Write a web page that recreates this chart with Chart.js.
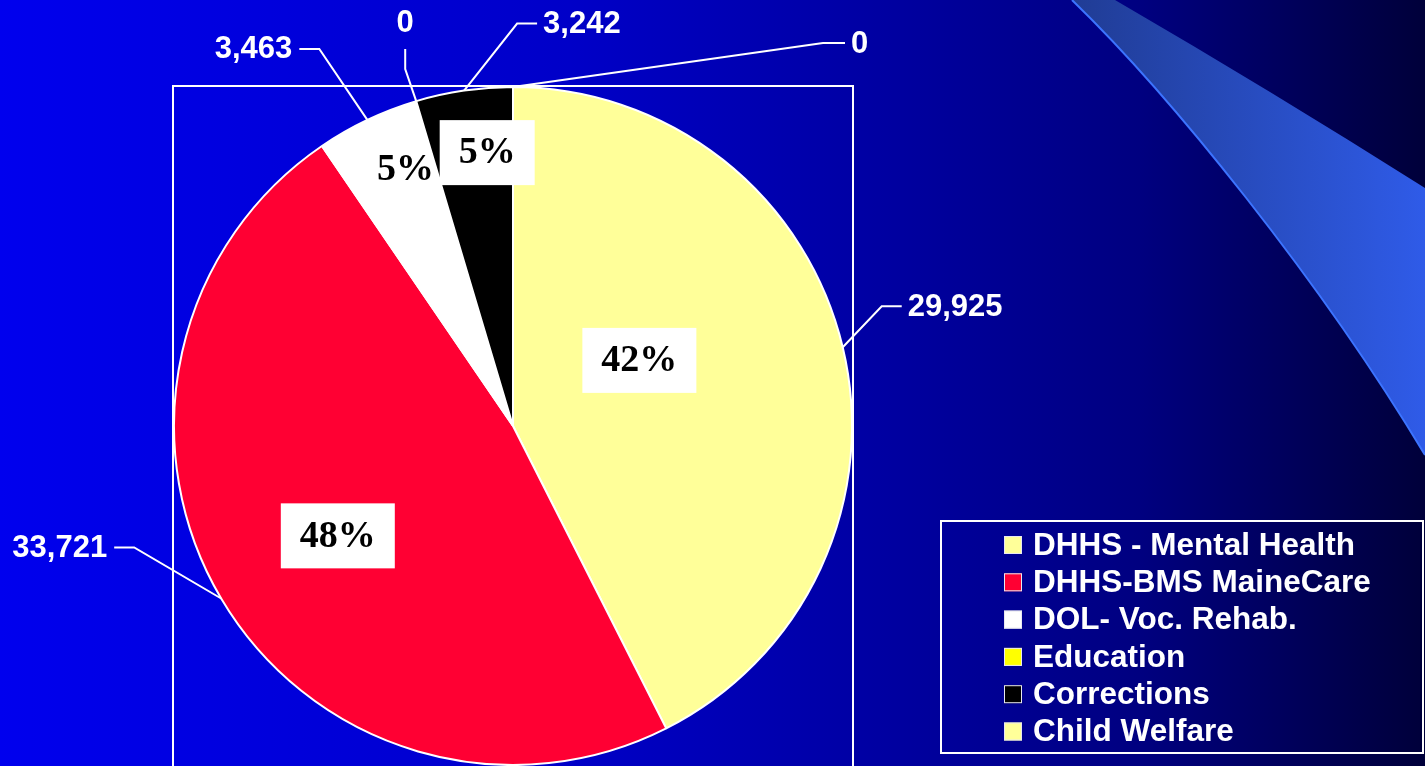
<!DOCTYPE html>
<html>
<head>
<meta charset="utf-8">
<script src="https://cdn.jsdelivr.net/npm/chart.js@4/dist/chart.umd.min.js"></script>
<style>
  html, body { margin: 0; padding: 0; overflow: hidden; background: #000080; }
  canvas { display: block; }
</style>
</head>
<body>
<canvas id="pie" width="1425" height="766"></canvas>
<script>
// data
const categories = ["DHHS - Mental Health", "DHHS-BMS MaineCare", "DOL- Voc. Rehab.", "Education", "Corrections", "Child Welfare"];
const values = [29925, 33721, 3463, 0, 3242, 0];
const percentLabels = ["42%", "48%", "5%", "", "5%", ""];
const sliceColors = ["#FFFF99", "#FF0033", "#FFFFFF", "#FFFF00", "#000000", "#FFFF99"];

// leader line placement for the value labels (elbow offset from slice edge, run length)
const leaders = [
  { dx: 39, dy: -41, run: 20, vertical: false },
  { dx: -87, dy: -51, run: -20, vertical: false },
  { dx: -48, dy: -71, run: -20, vertical: false },
  { dx: -11, dy: -32, run: -20, vertical: true },
  { dx: 53, dy: -67, run: 20, vertical: false },
  { dx: 310, dy: -44, run: 22, vertical: false }
];
// percent box placement: fraction of radius + angle nudge (deg)
const pctPlace = [
  { frac: 0.42, turn: -14, box: true },
  { frac: 0.61, turn: -1.5, box: true },
  { frac: 0.82, turn: 2.7, box: false },
  null,
  { frac: 0.81, turn: 2.9, box: true },
  null
];

const backdrop = {
  id: "backdrop",
  beforeDraw(chart) {
    const ctx = chart.ctx;
    const w = chart.width, h = chart.height;
    ctx.save();
    const bg = ctx.createLinearGradient(0, 0, w, 0);
    bg.addColorStop(0, "#0000EE");
    bg.addColorStop(0.4, "#0000C8");
    bg.addColorStop(0.65, "#00009C");
    bg.addColorStop(0.8, "#000080");
    bg.addColorStop(1, "#00003A");
    ctx.fillStyle = bg;
    ctx.fillRect(0, 0, w, h);

    // swoosh top right
    const sw = ctx.createLinearGradient(1070, 0, 1425, 0);
    sw.addColorStop(0, "#203C94");
    sw.addColorStop(1, "#2F5BE8");
    ctx.beginPath();
    ctx.moveTo(1072, 0);
    ctx.bezierCurveTo(1170, 95, 1320, 280, 1425, 455);
    ctx.lineTo(1425, 188);
    ctx.quadraticCurveTo(1270, 90, 1115, 0);
    ctx.closePath();
    ctx.fillStyle = sw;
    ctx.fill();
    ctx.beginPath();
    ctx.moveTo(1072, 0);
    ctx.bezierCurveTo(1170, 95, 1320, 280, 1425, 455);
    ctx.strokeStyle = "#3C74FF";
    ctx.lineWidth = 2;
    ctx.stroke();
    ctx.restore();
  },
  beforeDatasetsDraw(chart) {
    const { left, top, right } = chart.chartArea;
    const ctx = chart.ctx;
    ctx.save();
    ctx.strokeStyle = "#FFFFFF";
    ctx.lineWidth = 2;
    ctx.strokeRect(left, top, right - left, chart.height + 20 - top);
    ctx.restore();
  }
};

const sliceLabels = {
  id: "sliceLabels",
  afterDatasetsDraw(chart) {
    const ctx = chart.ctx;
    const arcs = chart.getDatasetMeta(0).data;
    ctx.save();

    // value labels with leader lines
    ctx.strokeStyle = "#FFFFFF";
    ctx.lineWidth = 2;
    ctx.fillStyle = "#FFFFFF";
    ctx.font = "bold 31px 'Liberation Sans', Arial, sans-serif";
    arcs.forEach((arc, i) => {
      const { x, y, startAngle, endAngle, outerRadius } = arc.getProps(["x", "y", "startAngle", "endAngle", "outerRadius"], true);
      const mid = (startAngle + endAngle) / 2;
      const ex = x + Math.cos(mid) * outerRadius;
      const ey = y + Math.sin(mid) * outerRadius;
      const L = leaders[i];
      const bx = ex + L.dx, by = ey + L.dy;
      const tx = L.vertical ? bx : bx + L.run;
      const ty = L.vertical ? by + L.run : by;
      ctx.beginPath();
      ctx.moveTo(ex, ey);
      ctx.lineTo(bx, by);
      ctx.lineTo(tx, ty);
      ctx.stroke();
      const txt = values[i].toLocaleString("en-US");
      ctx.textBaseline = "middle";
      if (L.vertical) {
        ctx.textAlign = "center";
        ctx.fillText(txt, tx, ty - 26);
      } else if (L.run > 0) {
        ctx.textAlign = "left";
        ctx.fillText(txt, tx + 6, ty + 1);
      } else {
        ctx.textAlign = "right";
        ctx.fillText(txt, tx - 7, ty + 1);
      }
    });

    // percent labels
    ctx.font = "bold 38px 'Liberation Serif', 'Times New Roman', serif";
    ctx.textAlign = "center";
    ctx.textBaseline = "middle";
    arcs.forEach((arc, i) => {
      const p = pctPlace[i];
      if (!p) return;
      const { x, y, startAngle, endAngle, outerRadius } = arc.getProps(["x", "y", "startAngle", "endAngle", "outerRadius"], true);
      const a = (startAngle + endAngle) / 2 + p.turn * Math.PI / 180;
      const cx = x + Math.cos(a) * outerRadius * p.frac;
      const cy = y + Math.sin(a) * outerRadius * p.frac;
      const tw = ctx.measureText(percentLabels[i]).width;
      if (p.box) {
        ctx.fillStyle = "#FFFFFF";
        ctx.fillRect(cx - tw / 2 - 19, cy - 32.5, tw + 38, 65);
      }
      ctx.fillStyle = "#000000";
      ctx.fillText(percentLabels[i], cx, cy + 1);
    });
    ctx.restore();
  },
  afterDraw(chart) {
    const ctx = chart.ctx;
    const colors = chart.data.datasets[0].backgroundColor;
    ctx.save();
    ctx.strokeStyle = "#FFFFFF";
    ctx.lineWidth = 2;
    ctx.strokeRect(941, 521, 482, 232);
    ctx.font = "bold 31.5px 'Liberation Sans', Arial, sans-serif";
    ctx.textAlign = "left";
    ctx.textBaseline = "middle";
    chart.data.labels.forEach((lab, i) => {
      const cy = 545 + i * 37.3;
      ctx.fillStyle = colors[i];
      ctx.fillRect(1004, cy - 9, 18, 18);
      ctx.lineWidth = 1;
      ctx.strokeStyle = "#E8E8F0";
      ctx.strokeRect(1004.5, cy - 8.5, 17, 17);
      ctx.fillStyle = "#FFFFFF";
      ctx.fillText(lab, 1033, cy + 1);
    });
    ctx.restore();
  }
};

new Chart(document.getElementById("pie"), {
  type: "pie",
  data: {
    labels: categories,
    datasets: [{
      data: values,
      backgroundColor: sliceColors,
      borderColor: "#FFFFFF",
      borderWidth: 2
    }]
  },
  options: {
    responsive: false,
    animation: false,
    devicePixelRatio: 1,
    layout: { padding: { left: 173, right: 572, top: 86, bottom: 0 } },
    plugins: {
      legend: { display: false },
      tooltip: { enabled: false }
    }
  },
  plugins: [backdrop, sliceLabels]
});
</script>
</body>
</html>
